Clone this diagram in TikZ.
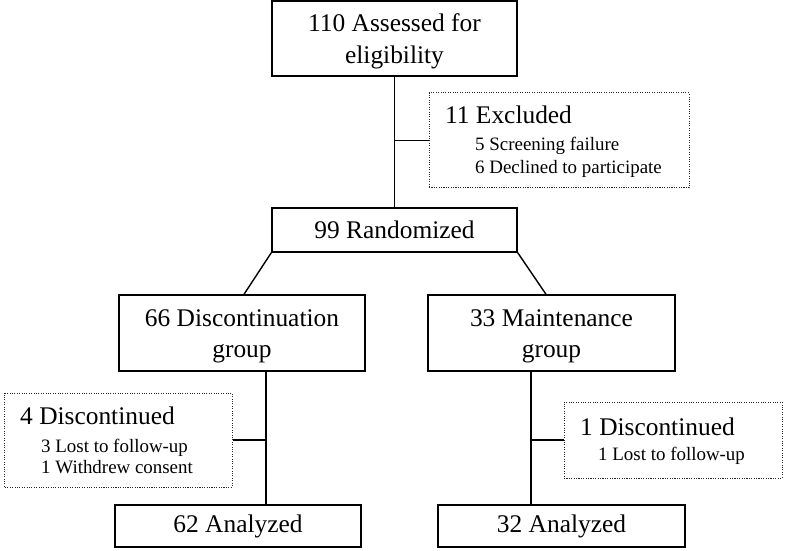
\documentclass[tikz,border=0pt]{standalone}
\usepackage{fontspec}
\setmainfont{Liberation Serif}
\newcommand{\tstrut}{\rule{0pt}{23.5bp}}
\begin{document}
\begin{tikzpicture}[x=1bp,y=-1bp,
  box/.style={draw, line width=1.4bp, inner sep=0pt, align=center, font=\fontsize{25.5}{32}\selectfont},
  dotbox/.style={draw=black!85, line width=1bp, dash pattern=on 1.1bp off 1.3bp, inner sep=0pt},
  big/.style={anchor=base west, inner sep=0pt, font=\fontsize{25.5}{28}\selectfont},
  small/.style={anchor=base west, inner sep=0pt, font=\fontsize{19}{23}\selectfont},
  link/.style={line width=1.4bp}]
\useasboundingbox (0,0) rectangle (787,551);
% main boxes
\node[box, minimum width=245bp, minimum height=75bp] (top) at (394.5,38.5) {\tstrut110 Assessed for\\eligibility};
\node[box, minimum width=245bp, minimum height=44bp] (rand) at (394.5,230) {99 Randomized};
\node[box, minimum width=246bp, minimum height=76bp] (disc) at (242,333) {\tstrut66 Discontinuation\\group};
\node[box, minimum width=247bp, minimum height=76bp] (maint) at (551.5,333) {\tstrut33 Maintenance\\group};
\node[box, minimum width=246bp, minimum height=42bp] (an1) at (238,526) {62 Analyzed};
\node[box, minimum width=247bp, minimum height=42bp] (an2) at (561.5,526) {32 Analyzed};
% dotted boxes
\node[dotbox, minimum width=260bp, minimum height=95bp] (excl) at (559,140.5) {};
\node[dotbox, minimum width=227bp, minimum height=94bp] (dl) at (118.5,440) {};
\node[dotbox, minimum width=218bp, minimum height=76bp] (dr) at (673,440) {};
% texts in dotted boxes
\node[big] (exclT1) at (445,124) {11 Excluded};
\node[small] (exclT2) at (475,151) {5 Screening failure};
\node[small] (exclT3) at (475,174) {6 Declined to participate};
\node[big] (dlT1) at (20,424) {4 Discontinued};
\node[small] (dlT2) at (41,452) {3 Lost to follow-up};
\node[small] (dlT3) at (41,473) {1 Withdrew consent};
\node[big] (drT1) at (580,435) {1 Discontinued};
\node[small] (drT2) at (598,460) {1 Lost to follow-up};
% guide coordinates
\coordinate (lv) at (266,0);
\coordinate (rv) at (531,0);
% connectors
\draw[link] (top.south) -- (rand.north);
\draw[link] (excl.west) -- (excl.west -| top.south);
\draw[link] (rand.south west) -- ([xshift=2bp]disc.north);
\draw[link] (rand.south east) -- ([xshift=-5.5bp]maint.north);
\draw[link] (disc.south -| lv) -- (an1.north -| lv);
\draw[link] (dl.east) -- (dl.east -| lv);
\draw[link] (maint.south -| rv) -- (an2.north -| rv);
\draw[link] (dr.west) -- (dr.west -| rv);
\end{tikzpicture}
\end{document}
